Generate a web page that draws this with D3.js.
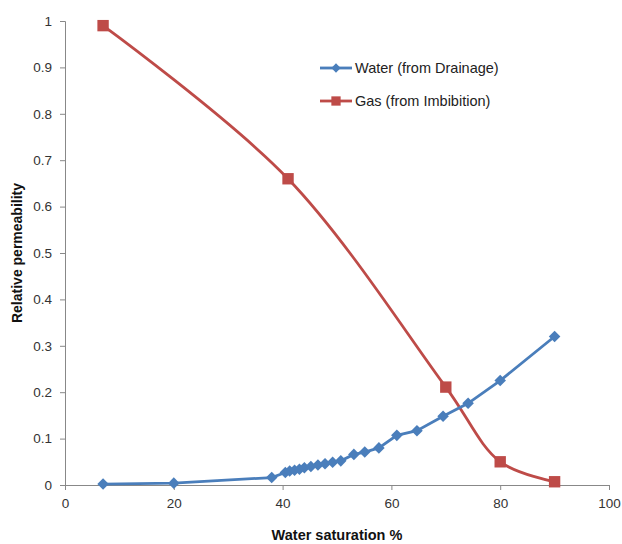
<!DOCTYPE html>
<html><head><meta charset="utf-8">
<script src="https://cdn.jsdelivr.net/npm/d3@7"></script>
<style>body{margin:0;background:#fff}svg{display:block}</style>
</head><body><svg id="c" width="622" height="544"></svg>
<script>
const waterX = [7, 20, 38, 40.5, 41.3, 42.2, 43.1, 44.0, 45.2, 46.5, 47.8, 49.2, 50.7, 53.1, 55.1, 57.7, 61.0, 64.7, 69.5, 74.1, 80, 90];
const waterY = [0.002, 0.004, 0.016, 0.027, 0.030, 0.032, 0.034, 0.037, 0.040, 0.043, 0.046, 0.049, 0.052, 0.066, 0.071, 0.080, 0.107, 0.117, 0.148, 0.176, 0.225, 0.32];
const gasX = [7, 41, 70, 80, 90];
const gasY = [0.99, 0.66, 0.211, 0.05, 0.007];
const xTicks = [0, 20, 40, 60, 80, 100];
const yTicks = [0, 0.1, 0.2, 0.3, 0.4, 0.5, 0.6, 0.7, 0.8, 0.9, 1];
const seriesNames = ["Water (from Drainage)", "Gas (from Imbibition)"];
const colors = ["#4A7EBB", "#BE4B48"];

const svg = d3.select("#c");
const x = d3.scaleLinear().domain([0, 100]).range([65, 609]);
const y = d3.scaleLinear().domain([0, 1]).range([485, 21]);
const font = "'Liberation Sans', Arial, sans-serif";

const xa = svg.append("g").attr("transform", "translate(0,485)")
  .call(d3.axisBottom(x).tickValues(xTicks).tickSize(5).tickPadding(8).tickFormat(d3.format("d")));
const ya = svg.append("g").attr("transform", "translate(65,0)")
  .call(d3.axisLeft(y).tickValues(yTicks).tickSize(5).tickPadding(8).tickFormat(d => d === 0 ? "0" : d === 1 ? "1" : d3.format(".1f")(d)));
[xa, ya].forEach(a => {
  a.selectAll("path,line").attr("stroke", "#888");
  a.selectAll("text").attr("fill", "#333").style("font-family", font).style("font-size", "13.5px");
});

svg.append("text").attr("x", 337).attr("y", 540).attr("text-anchor", "middle")
  .style("font-family", font).style("font-size", "14.5px").style("font-weight", "bold").attr("fill", "#111")
  .text("Water saturation %");
svg.append("text").attr("transform", "translate(22,253) rotate(-90)").attr("text-anchor", "middle")
  .style("font-family", font).style("font-size", "14px").style("font-weight", "bold").attr("fill", "#111")
  .text("Relative permeability");

const water = waterX.map((d, i) => [d, waterY[i]]);
const gas = gasX.map((d, i) => [d, gasY[i]]);

svg.append("path").datum(gas).attr("fill", "none").attr("stroke", colors[1]).attr("stroke-width", 2.8)
  .attr("d", d3.line().x(d => x(d[0])).y(d => y(d[1])).curve(d3.curveCatmullRom.alpha(0.5)));
svg.append("path").datum(water).attr("fill", "none").attr("stroke", colors[0]).attr("stroke-width", 2.8)
  .attr("d", d3.line().x(d => x(d[0])).y(d => y(d[1])));

const diamond = d3.symbol().type(d3.symbolDiamond2).size(85);
const square = d3.symbol().type(d3.symbolSquare2).size(165);
svg.selectAll(".g").data(gas).join("path").attr("fill", colors[1])
  .attr("transform", d => `translate(${x(d[0])},${y(d[1])})`).attr("d", square);
svg.selectAll(".w").data(water).join("path").attr("fill", colors[0])
  .attr("transform", d => `translate(${x(d[0])},${y(d[1])})`).attr("d", diamond);

const leg = svg.append("g");
[0, 1].forEach(i => {
  const ly = 68 + i * 33;
  leg.append("line").attr("x1", 320).attr("x2", 352).attr("y1", ly).attr("y2", ly)
    .attr("stroke", colors[i]).attr("stroke-width", 2.8);
  leg.append("path").attr("transform", `translate(336,${ly})`).attr("fill", colors[i])
    .attr("d", i === 0 ? d3.symbol().type(d3.symbolDiamond2).size(55)() : d3.symbol().type(d3.symbolSquare2).size(110)());
  leg.append("text").attr("x", 355).attr("y", ly + 5).attr("fill", "#222")
    .style("font-family", font).style("font-size", "14.5px").text(seriesNames[i]);
});
</script></body></html>
